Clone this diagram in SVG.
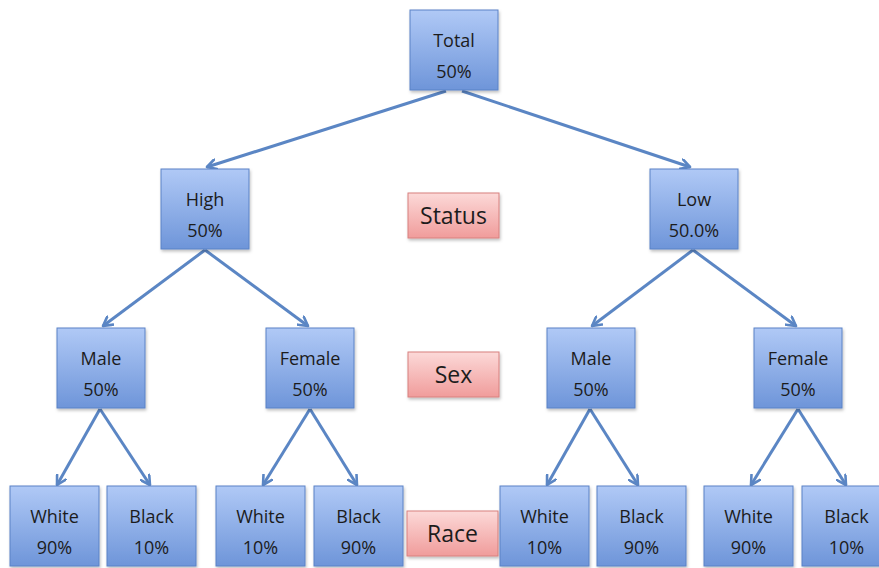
<svg xmlns="http://www.w3.org/2000/svg" width="879" height="568" viewBox="0 0 879 568">
<defs>
<linearGradient id="gb" x1="0" y1="0" x2="0" y2="1"><stop offset="0" stop-color="#b0c9f6"/><stop offset="1" stop-color="#6e95d9"/></linearGradient>
<linearGradient id="gp" x1="0" y1="0" x2="0" y2="1"><stop offset="0" stop-color="#fcd9d8"/><stop offset="1" stop-color="#f09c9b"/></linearGradient>
<marker id="ah" viewBox="0 0 12 12" refX="10" refY="6" markerWidth="12" markerHeight="12" markerUnits="userSpaceOnUse" orient="auto"><path d="M1,1 L10,6 L1,11" fill="none" stroke="#5b86c4" stroke-width="2.6" stroke-linecap="round" stroke-linejoin="round"/></marker>
<filter id="sh" x="-10%" y="-10%" width="130%" height="130%"><feDropShadow dx="1" dy="2" stdDeviation="1.5" flood-color="#000" flood-opacity="0.25"/></filter>
</defs>
<style>
.n rect{fill:url(#gb);stroke:#5a82c6;stroke-width:1;filter:url(#sh)}
.c rect{fill:url(#gp);stroke:#d8807f;stroke-width:1;filter:url(#sh)}
.n text{font-family:"Liberation Sans Narrow","Open Sans","Liberation Sans",sans-serif;font-size:18px;fill:#1c1c1c;text-anchor:middle}
.c text{font-family:"Liberation Sans Narrow","Open Sans","Liberation Sans",sans-serif;font-size:23px;fill:#1c1c1c;text-anchor:middle}
#edges line{stroke:#5b86c4;stroke-width:3;marker-end:url(#ah)}
</style>
<g id="edges">
<line x1="446" y1="91" x2="207" y2="167"/>
<line x1="462" y1="91" x2="690" y2="167"/>
<line x1="205" y1="250" x2="103" y2="326"/>
<line x1="205" y1="250" x2="308" y2="326"/>
<line x1="693" y1="250" x2="592" y2="326"/>
<line x1="693" y1="250" x2="796" y2="326"/>
<line x1="100" y1="409" x2="57" y2="485"/>
<line x1="100" y1="409" x2="150" y2="485"/>
<line x1="310" y1="409" x2="263" y2="485"/>
<line x1="310" y1="409" x2="357" y2="485"/>
<line x1="590" y1="409" x2="547" y2="485"/>
<line x1="590" y1="409" x2="638" y2="485"/>
<line x1="798" y1="409" x2="751" y2="485"/>
<line x1="798" y1="409" x2="846" y2="485"/>
</g>
<g id="total" class="n"><rect x="410" y="10" width="88" height="80"/><text x="454" y="47">Total</text><text x="454" y="78">50%</text></g>
<g id="high" class="n"><rect x="161" y="169" width="88" height="80"/><text x="205" y="206">High</text><text x="205" y="237">50%</text></g>
<g id="low" class="n"><rect x="650" y="169" width="88" height="80"/><text x="694" y="206">Low</text><text x="694" y="237">50.0%</text></g>
<g id="status" class="c"><rect x="408" y="193" width="91" height="45"/><text x="453.5" y="224">Status</text></g>
<g id="male1" class="n"><rect x="57" y="328" width="88" height="80"/><text x="101" y="365">Male</text><text x="101" y="396">50%</text></g>
<g id="female1" class="n"><rect x="266" y="328" width="88" height="80"/><text x="310" y="365">Female</text><text x="310" y="396">50%</text></g>
<g id="sex" class="c"><rect x="408" y="352" width="91" height="45"/><text x="453.5" y="383">Sex</text></g>
<g id="male2" class="n"><rect x="547" y="328" width="88" height="80"/><text x="591" y="365">Male</text><text x="591" y="396">50%</text></g>
<g id="female2" class="n"><rect x="754" y="328" width="88" height="80"/><text x="798" y="365">Female</text><text x="798" y="396">50%</text></g>
<g id="white1" class="n"><rect x="10" y="486" width="89" height="80"/><text x="54.5" y="523">White</text><text x="54.5" y="554">90%</text></g>
<g id="black1" class="n"><rect x="107" y="486" width="89" height="80"/><text x="151.5" y="523">Black</text><text x="151.5" y="554">10%</text></g>
<g id="white2" class="n"><rect x="216" y="486" width="89" height="80"/><text x="260.5" y="523">White</text><text x="260.5" y="554">10%</text></g>
<g id="black2" class="n"><rect x="314" y="486" width="89" height="80"/><text x="358.5" y="523">Black</text><text x="358.5" y="554">90%</text></g>
<g id="race" class="c"><rect x="407" y="511" width="91" height="45"/><text x="452.5" y="542">Race</text></g>
<g id="white3" class="n"><rect x="500" y="486" width="89" height="80"/><text x="544.5" y="523">White</text><text x="544.5" y="554">10%</text></g>
<g id="black3" class="n"><rect x="597" y="486" width="89" height="80"/><text x="641.5" y="523">Black</text><text x="641.5" y="554">90%</text></g>
<g id="white4" class="n"><rect x="704" y="486" width="89" height="80"/><text x="748.5" y="523">White</text><text x="748.5" y="554">90%</text></g>
<g id="black4" class="n"><rect x="802" y="486" width="89" height="80"/><text x="846.5" y="523">Black</text><text x="846.5" y="554">10%</text></g>
</svg>
